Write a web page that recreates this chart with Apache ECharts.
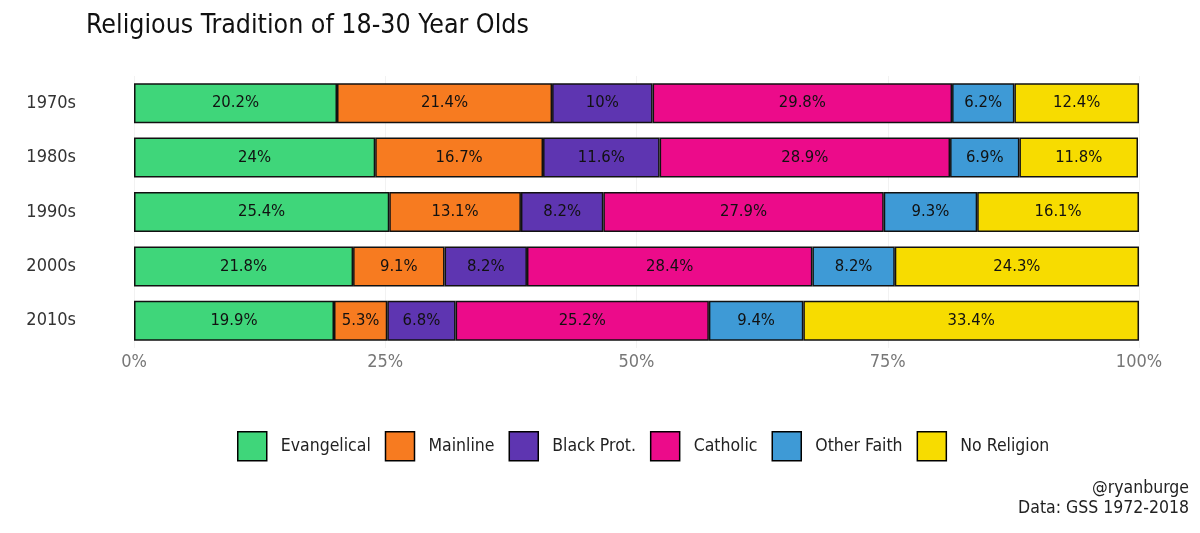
<!DOCTYPE html>
<html><head><meta charset="utf-8">
<script src="https://cdn.jsdelivr.net/npm/echarts@6/dist/echarts.min.js"></script>
<style>html,body{margin:0;padding:0;background:#fff}#c{width:1200px;height:533px}</style>
</head><body><div id="c"></div>
<script>
const decades = ['1970s','1980s','1990s','2000s','2010s'];
const seriesNames = ['Evangelical','Mainline','Black Prot.','Catholic','Other Faith','No Religion'];
const colors = ['#3fd67a','#f77b20','#5e35b1','#ec0b8a','#3e9ad6','#f7dc00'];
const evangelical = [20.2, 24, 25.4, 21.8, 19.9];
const mainline    = [21.4, 16.7, 13.1, 9.1, 5.3];
const blackProt   = [10, 11.6, 8.2, 8.2, 6.8];
const catholic    = [29.8, 28.9, 27.9, 28.4, 25.2];
const otherFaith  = [6.2, 6.9, 9.3, 8.2, 9.4];
const noReligion  = [12.4, 11.8, 16.1, 24.3, 33.4];
const xTicks = [0, 25, 50, 75, 100];
const allData = [evangelical, mainline, blackProt, catholic, otherFaith, noReligion];
const FONT = '"DejaVu Sans Condensed", "Liberation Sans Narrow", Roboto, sans-serif';

const chart = echarts.init(document.getElementById('c'));
chart.setOption({
  animation: false,
  textStyle: {fontFamily: FONT},
  title: [
    {text: 'Religious Tradition of 18-30 Year Olds', left: 81, top: 8,
     textStyle: {fontFamily: FONT, fontSize: 26.5, fontWeight: 'normal', color: '#111'}}
  ],
  graphic: [
    {type: 'text', right: 11, top: 479,
     style: {text: '@ryanburge', fontFamily: FONT, fontSize: 17.5, fill: '#222'}},
    {type: 'text', right: 11, top: 499,
     style: {text: 'Data: GSS 1972-2018', fontFamily: FONT, fontSize: 17.5, fill: '#222'}}
  ],
  legend: {
    data: seriesNames, left: 232, top: 426, itemWidth: 29, itemHeight: 29, itemGap: 14,
    icon: 'rect',
    textStyle: {fontFamily: FONT, fontSize: 17.5, color: '#222', padding: [0,0,0,9]},
    itemStyle: {borderColor: '#000', borderWidth: 1.5}
  },
  grid: {left: 134, right: 61, top: 76, bottom: 185},
  xAxis: {
    type: 'value', min: 0, max: 100, interval: 25,
    axisLabel: {formatter: v => v + '%', color: '#777', fontSize: 18, margin: 5},
    axisLine: {show: false}, axisTick: {show: false},
    splitLine: {show: true, lineStyle: {color: '#f2f2f2', width: 1}}
  },
  yAxis: {
    type: 'category', data: decades, inverse: true,
    axisLine: {show: false}, axisTick: {show: false},
    axisLabel: {color: '#333', fontSize: 18, margin: 58}
  },
  series: seriesNames.map((n, i) => ({
    name: n, type: 'bar', stack: 'total', barWidth: 40,
    data: allData[i],
    itemStyle: {color: colors[i], borderColor: '#111', borderWidth: 1.5},
    label: {show: true, position: 'inside', formatter: p => p.value + '%',
            color: '#111', fontSize: 16.5, fontFamily: FONT}
  }))
});
</script></body></html>
